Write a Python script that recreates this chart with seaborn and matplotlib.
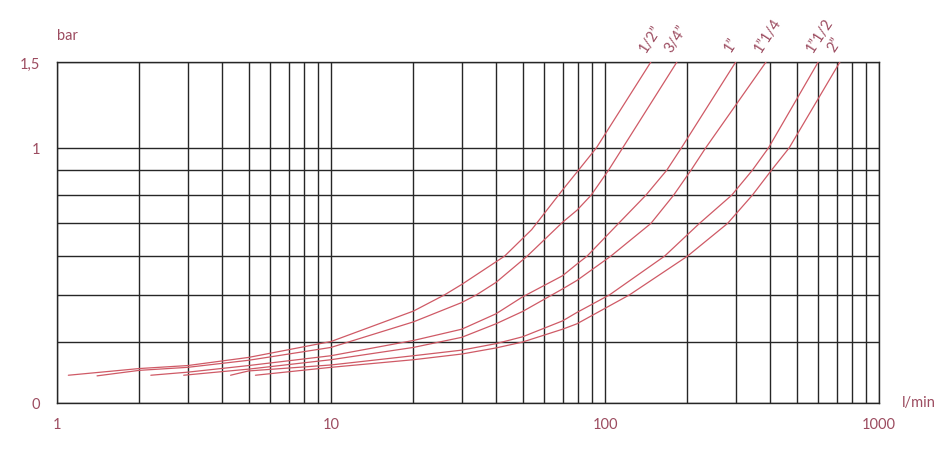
import matplotlib
matplotlib.use('Agg')
import matplotlib.pyplot as plt
from matplotlib.ticker import LogLocator, NullFormatter
import pandas as pd
import seaborn as sns

# pipe sizes (curve labels)
sizes = ['1/2”', '3/4”', '1”', '1”1/4', '1”1/2', '2”']

# flow (l/min) and pressure drop (bar), one pair per size
flow_12 = [1.1, 2, 3, 5, 10, 20, 26, 30, 43, 54, 70, 80, 93, 147]
bar_12 = [0.342, 0.353, 0.358, 0.372, 0.401, 0.463, 0.5, 0.525, 0.6, 0.68, 0.82, 0.9, 1.0, 1.5]

flow_34 = [1.4, 2, 3, 5, 10, 20, 30, 34, 40, 52, 70, 79, 89, 103, 116, 183]
bar_34 = [0.341, 0.350, 0.355, 0.367, 0.390, 0.440, 0.482, 0.5, 0.53, 0.6, 0.704, 0.745, 0.8, 0.9, 1.0, 1.5]

flow_1 = [2.2, 3, 5, 10, 20, 30, 40, 50, 70, 79, 86, 112, 141, 168, 190, 300]
bar_1 = [0.342, 0.347, 0.358, 0.375, 0.403, 0.425, 0.457, 0.495, 0.547, 0.578, 0.6, 0.7, 0.8, 0.9, 1.0, 1.5]

flow_114 = [2.9, 5, 10, 20, 30, 40, 50, 70, 79, 105, 147, 178, 206, 233, 387]
bar_114 = [0.342, 0.352, 0.368, 0.390, 0.409, 0.436, 0.462, 0.514, 0.535, 0.6, 0.7, 0.8, 0.9, 1.0, 1.5]

flow_112 = [4.3, 5, 10, 20, 30, 40, 50, 70, 79, 104, 165, 221, 290, 345, 395, 600]
bar_112 = [0.342, 0.349, 0.359, 0.375, 0.385, 0.397, 0.41, 0.442, 0.460, 0.5, 0.6, 0.7, 0.8, 0.9, 1.0, 1.5]

flow_2 = [5.3, 10, 20, 30, 40, 50, 70, 79, 123, 200, 280, 345, 405, 470, 720]
bar_2 = [0.342, 0.355, 0.368, 0.378, 0.389, 0.40, 0.425, 0.436, 0.5, 0.6, 0.7, 0.8, 0.9, 1.0, 1.5]

x_ticks = [1, 10, 100, 1000]
x_labels = ['1', '10', '100', '1000']
y_ticks = [0.3, 1.0, 1.5]
y_labels = ['0', '1', '1,5']
y_grid = [0.4, 0.5, 0.6, 0.7, 0.8, 0.9]

curve_color = '#cf5a66'
text_color = '#9c4c60'
grid_color = '#262626'

flows = [flow_12, flow_34, flow_1, flow_114, flow_112, flow_2]
bars = [bar_12, bar_34, bar_1, bar_114, bar_112, bar_2]
df = pd.concat([pd.DataFrame({'size': s, 'flow': f, 'bar': b})
                for s, f, b in zip(sizes, flows, bars)], ignore_index=True)

sns.set_style('white')
plt.rcParams['font.family'] = ['Lato', 'DejaVu Sans']

fig = plt.figure(figsize=(9.52, 4.52), dpi=100)
ax = fig.add_axes([57 / 952, 1 - 404 / 452, (879 - 57) / 952, (404 - 63) / 452])

sns.lineplot(data=df, x='flow', y='bar', hue='size', palette=[curve_color] * len(sizes),
             estimator=None, sort=False, legend=False, linewidth=0.9, ax=ax, zorder=3)

ax.set_xscale('log')
ax.set_yscale('log')
ax.set_xlim(1, 1000)
ax.set_ylim(0.3, 1.5)

ax.set_xticks(x_ticks)
ax.set_xticklabels(x_labels)
ax.xaxis.set_minor_locator(LogLocator(base=10, subs=range(2, 10)))
ax.xaxis.set_minor_formatter(NullFormatter())
ax.set_yticks(y_ticks)
ax.set_yticklabels(y_labels)
ax.set_yticks(y_grid, minor=True)
ax.yaxis.set_minor_formatter(NullFormatter())

ax.grid(which='both', color=grid_color, linewidth=1.0)
ax.tick_params(which='both', length=0)
ax.tick_params(axis='x', pad=10, labelsize=10.5, labelcolor=text_color)
ax.tick_params(axis='y', pad=12, labelsize=10.5, labelcolor=text_color)
for sp in ax.spines.values():
    sp.set_color(grid_color)
    sp.set_linewidth(1.0)
ax.set_xlabel('')
ax.set_ylabel('')

# size labels at the top end of each curve
for s, f, b in zip(sizes, flows, bars):
    ax.annotate(s, xy=(f[-1], b[-1]), xytext=(-2, 6), textcoords='offset points',
                rotation=57, rotation_mode='anchor', ha='left', va='bottom',
                color=text_color, fontsize=10.5, annotation_clip=False)

ax.text(0, 1.067, 'bar', transform=ax.transAxes, ha='left', va='baseline',
        color=text_color, fontsize=10.5)
ax.text(1.028, 0.003, 'l/min', transform=ax.transAxes, ha='left', va='center',
        color=text_color, fontsize=10.5)

fig.savefig('out.png', dpi=100)
